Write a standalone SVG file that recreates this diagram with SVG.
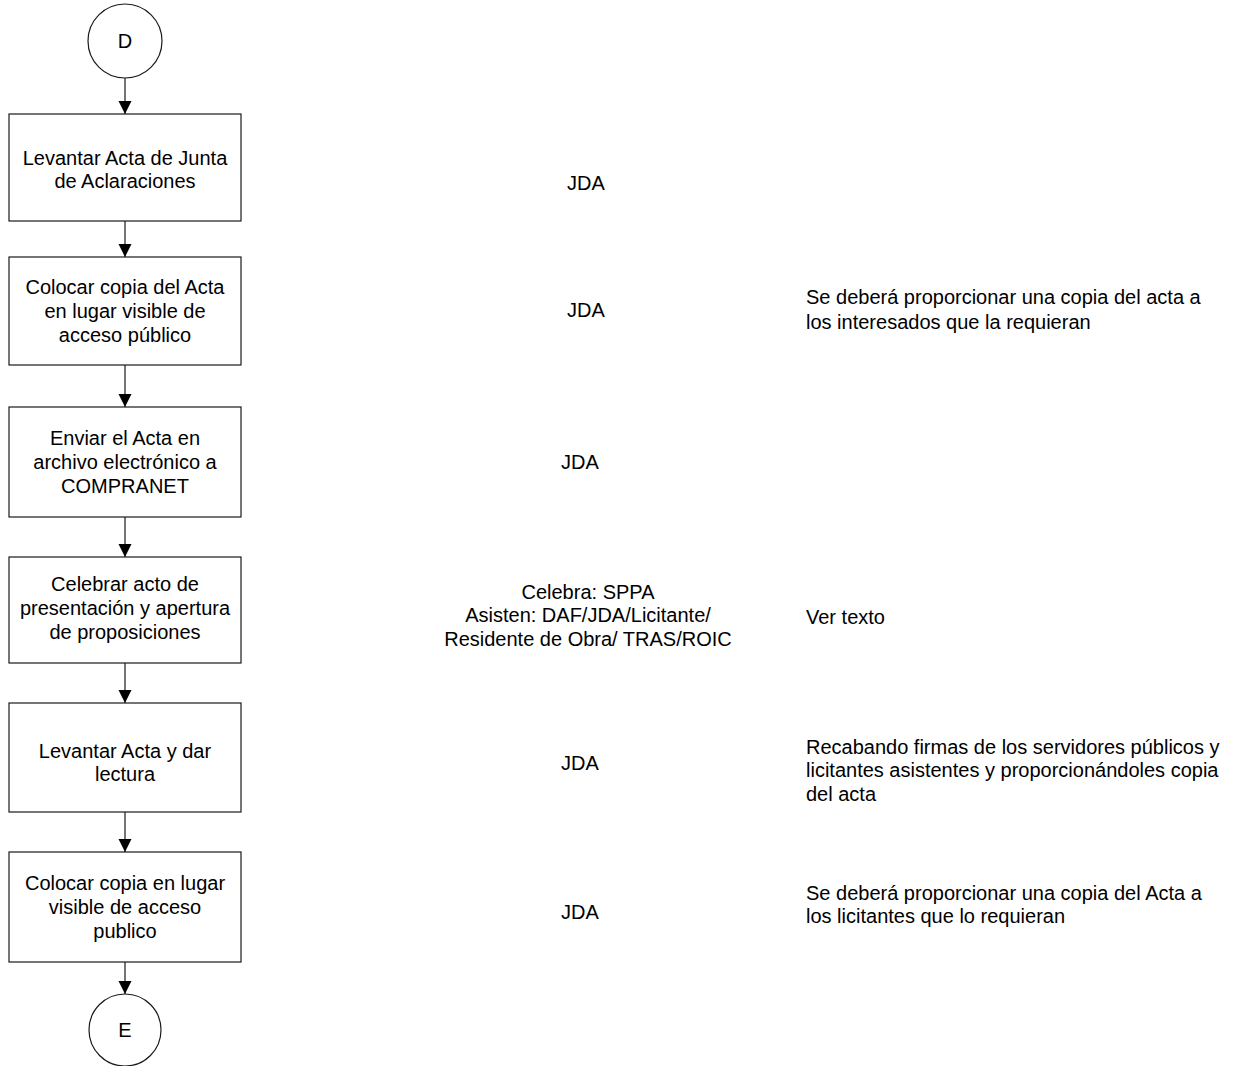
<svg xmlns="http://www.w3.org/2000/svg" width="1240" height="1066" viewBox="0 0 1240 1066">
  <style>
    .shape { fill: #ffffff; stroke: #1a1a1a; stroke-width: 1.2; }
    .link { fill: none; stroke: #1a1a1a; stroke-width: 1.2; }
    text { font-family: "Liberation Sans", Arial, sans-serif; font-size: 20px; fill: #000000; }
    .c { text-anchor: middle; }
  </style>
  <defs>
    <marker id="arrow" viewBox="0 0 13 14" refX="13" refY="6.5" markerWidth="13" markerHeight="14" markerUnits="userSpaceOnUse" orient="auto">
      <path d="M0,0 L13,6.5 L0,13 Z" fill="#000000"/>
    </marker>
  </defs>
  <rect width="1240" height="1066" fill="#ffffff"/>

  <!-- connectors -->
  <g id="connectors">
    <line class="link" x1="125" y1="78" x2="125" y2="114" marker-end="url(#arrow)"/>
    <line class="link" x1="125" y1="221" x2="125" y2="257" marker-end="url(#arrow)"/>
    <line class="link" x1="125" y1="365" x2="125" y2="407" marker-end="url(#arrow)"/>
    <line class="link" x1="125" y1="517" x2="125" y2="557" marker-end="url(#arrow)"/>
    <line class="link" x1="125" y1="663" x2="125" y2="703" marker-end="url(#arrow)"/>
    <line class="link" x1="125" y1="812" x2="125" y2="852" marker-end="url(#arrow)"/>
    <line class="link" x1="125" y1="962" x2="125" y2="994" marker-end="url(#arrow)"/>
  </g>

  <!-- start connector -->
  <g id="start-d">
    <circle class="shape" cx="125" cy="41" r="37"/>
    <text class="c" x="125" y="48">D</text>
  </g>

  <g id="step-1">
    <rect class="shape" x="9" y="114" width="232" height="107"/>
    <text class="c" x="125" y="165">Levantar Acta de Junta</text>
    <text class="c" x="125" y="188">de Aclaraciones</text>
  </g>

  <g id="step-2">
    <rect class="shape" x="9" y="257" width="232" height="108"/>
    <text class="c" x="125" y="294">Colocar copia del Acta</text>
    <text class="c" x="125" y="318">en lugar visible de</text>
    <text class="c" x="125" y="342">acceso público</text>
  </g>

  <g id="step-3">
    <rect class="shape" x="9" y="407" width="232" height="110"/>
    <text class="c" x="125" y="445">Enviar el Acta en</text>
    <text class="c" x="125" y="469">archivo electrónico a</text>
    <text class="c" x="125" y="493">COMPRANET</text>
  </g>

  <g id="step-4">
    <rect class="shape" x="9" y="557" width="232" height="106"/>
    <text class="c" x="125" y="591">Celebrar acto de</text>
    <text class="c" x="125" y="615">presentación y apertura</text>
    <text class="c" x="125" y="639">de proposiciones</text>
  </g>

  <g id="step-5">
    <rect class="shape" x="9" y="703" width="232" height="109"/>
    <text class="c" x="125" y="758">Levantar Acta y dar</text>
    <text class="c" x="125" y="781">lectura</text>
  </g>

  <g id="step-6">
    <rect class="shape" x="9" y="852" width="232" height="110"/>
    <text class="c" x="125" y="890">Colocar copia en lugar</text>
    <text class="c" x="125" y="914">visible de acceso</text>
    <text class="c" x="125" y="938">publico</text>
  </g>

  <!-- end connector -->
  <g id="end-e">
    <circle class="shape" cx="125" cy="1030" r="36"/>
    <text class="c" x="125" y="1037">E</text>
  </g>

  <!-- responsible column -->
  <g id="responsables">
    <text class="c" x="586" y="190">JDA</text>
    <text class="c" x="586" y="317">JDA</text>
    <text class="c" x="580" y="469">JDA</text>
    <text class="c" x="588" y="599">Celebra: SPPA</text>
    <text class="c" x="588" y="622">Asisten: DAF/JDA/Licitante/</text>
    <text class="c" x="588" y="646">Residente de Obra/ TRAS/ROIC</text>
    <text class="c" x="580" y="770">JDA</text>
    <text class="c" x="580" y="919">JDA</text>
  </g>

  <!-- notes column -->
  <g id="notas">
    <text x="806" y="304">Se deberá proporcionar una copia del acta a</text>
    <text x="806" y="329">los interesados que la requieran</text>
    <text x="806" y="624">Ver texto</text>
    <text x="806" y="754">Recabando firmas de los servidores públicos y</text>
    <text x="806" y="777">licitantes asistentes y proporcionándoles copia</text>
    <text x="806" y="801">del acta</text>
    <text x="806" y="900">Se deberá proporcionar una copia del Acta a</text>
    <text x="806" y="923">los licitantes que lo requieran</text>
  </g>
</svg>
